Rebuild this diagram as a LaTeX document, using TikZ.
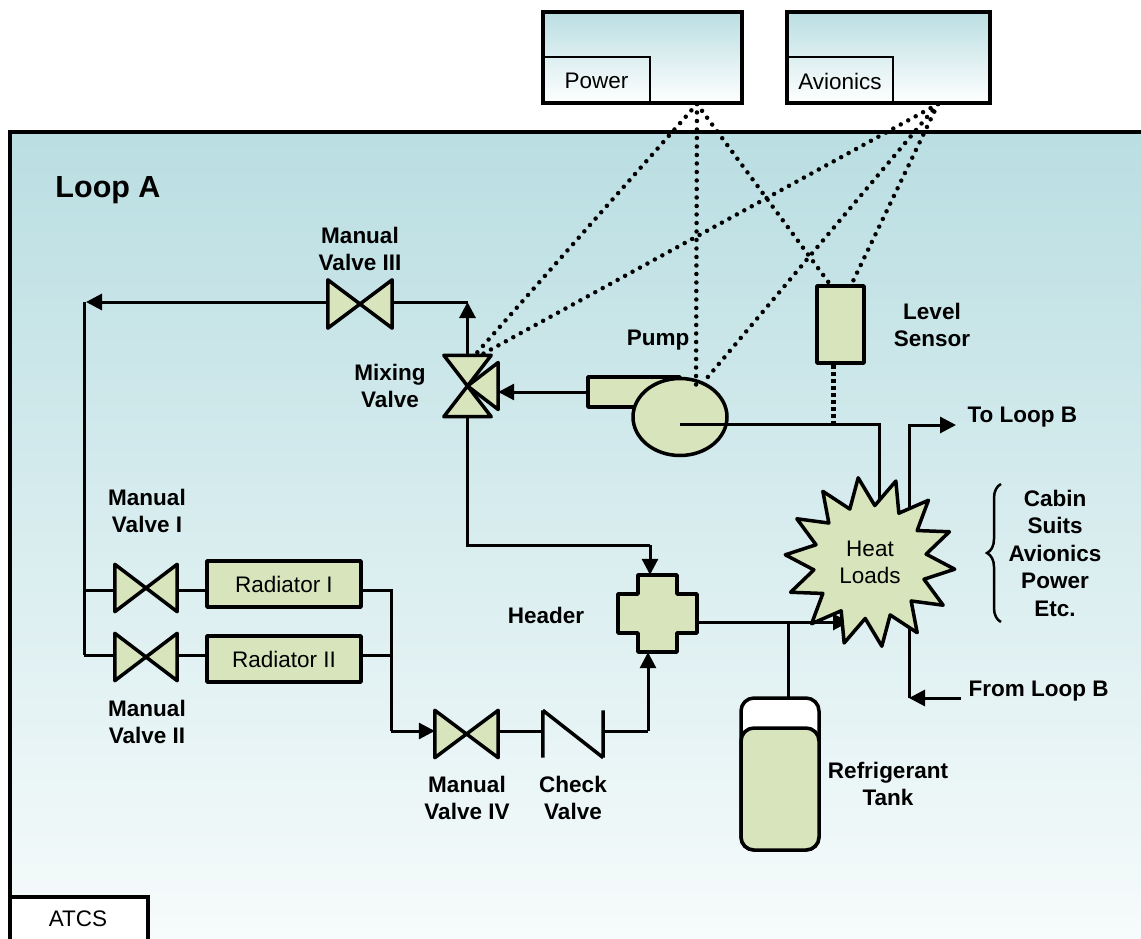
\documentclass[tikz,border=0pt]{standalone}
\usepackage{fontspec}
\setmainfont{Liberation Sans}
\usetikzlibrary{arrows.meta,shapes.geometric,decorations.pathreplacing,calc}
\definecolor{compfill}{HTML}{D7E4BC}
\definecolor{paneltop}{HTML}{BADEE2}
\definecolor{panelbot}{HTML}{F8FCFC}
\begin{document}
\begin{tikzpicture}[x=1pt,y=-1pt,
  pipe/.style={line width=3pt},
  arr/.style={-{Triangle[length=16pt,width=16pt]}},
  comp/.style={draw, line width=3.5pt, fill=compfill, line join=round},
  anchorbox/.style={inner sep=0pt, minimum width=#1},
  lbl/.style={font=\bfseries\fontsize{22.5}{27.5}\selectfont, align=center},
  txt/.style={font=\fontsize{22.5}{27}\selectfont, align=center},
  dots/.style={line width=4.5pt, dash pattern=on 0pt off 8.5pt, line cap=round},
  sensdash/.style={line width=5pt, dash pattern=on 4pt off 3pt},
  frame/.style={draw, line width=3.5pt}
]
\useasboundingbox (0,0) rectangle (1141,939);
% panel
\shade[top color=paneltop, bottom color=panelbot] (10,132) rectangle (1160,960);
\draw[line width=3.5pt] (10,960) -- (10,132) -- (1160,132);
\node[frame, fill=white, minimum width=138pt, minimum height=48pt, inner sep=0pt, outer sep=0pt, anchor=north west] (atcs) at (10,897) {};
\node[txt] (atcstxt) at (78,919) {ATCS};
\node[lbl, font=\bfseries\fontsize{30.5}{33}\selectfont] (loopA) at (108,190) {Loop A};

% top boxes
\shade[top color=paneltop, bottom color=white] (543,12) rectangle (742,103);
\node[frame, minimum width=199pt, minimum height=91pt, inner sep=0pt] (powbox) at (642.5,57.5) {};
\draw[line width=2.5pt] (543,57) -- (650,57) -- (650,103);
\node[txt] (powtxt) at (596.5,81) {Power};
\shade[top color=paneltop, bottom color=white] (787,12) rectangle (990,103);
\node[frame, minimum width=203pt, minimum height=91pt, inner sep=0pt] (avbox) at (888.5,57.5) {};
\draw[line width=2.5pt] (787,57) -- (893,57) -- (893,103);
\node[txt] (avtxt) at (840,81) {Avionics};

% component anchor nodes
\node[anchorbox=64pt, minimum height=48pt] (v3) at (360,304) {};
\node[anchorbox=47pt, minimum height=61pt] (mv) at (467.5,386) {};
\node[anchorbox=62pt, minimum height=47pt] (v1) at (146,588) {};
\node[anchorbox=62pt, minimum height=47pt] (v2) at (146,657) {};
\node[anchorbox=63pt, minimum height=47pt] (v4) at (466.5,734) {};
\node[anchorbox=60pt, minimum height=47pt] (cv) at (573,734) {};
\node[anchorbox=79pt, minimum height=77pt] (hd) at (657.5,613.5) {};
\coordinate (vl) at (84,302);
\coordinate (mvtop) at (467.5,302);
\coordinate (mvbend) at (467.5,545);
\coordinate (hdbend) at (650,545);
\coordinate (rj) at (391,590);
\coordinate (r2j) at (391,655);
\coordinate (v4in) at (391,731);
\coordinate (cvout) at (648,731);
\coordinate (hlin) at (849,622);
\coordinate (branch) at (788,622);
\coordinate (toB) at (956,425);
\coordinate (toBc) at (909,425);
\coordinate (fromB) at (961,698);
\coordinate (bx) at (909,698);
\coordinate (psrc) at (697,104);
\coordinate (asrc) at (938,104);
\coordinate (pipeR) at (879,424);
\coordinate (pipeD) at (879,520);
\coordinate (vlb) at (84,655);
\coordinate (vlr) at (84,590);

% pipes
\draw[pipe] (mv.south) -- (mvbend) -- (hdbend);
\draw[pipe,arr] (hdbend) -- ([xshift=-7.5pt]hd.north);
\draw[pipe,arr] (mv.north) -- (mvtop);
\draw[pipe] (mvtop) -- (v3.east |- vl);
\draw[pipe,arr] (v3.west |- vl) -- ([xshift=2pt]vl);
\draw[pipe] (vl) -- (vlb);
\draw[pipe] (vlr) -- (v1.west |- rj);
\draw[pipe] (vlb) -- (v2.west |- r2j);
\node[comp, minimum width=154pt, minimum height=46pt, inner sep=0pt, txt] (r1) at (284,584) {Radiator I};
\node[comp, minimum width=154pt, minimum height=46pt, inner sep=0pt, txt] (r2) at (284,659) {Radiator II};
\draw[pipe] (v1.east |- rj) -- (r1.west |- rj);
\draw[pipe] (v2.east |- r2j) -- (r2.west |- r2j);
\draw[pipe] (r1.east |- rj) -- (rj) -- (v4in);
\draw[pipe] (r2.east |- r2j) -- (r2j);
\draw[pipe,arr] (v4in) -- (v4.west |- v4in);
\draw[pipe] (v4.east |- v4in) -- (cv.west |- v4in);
\draw[pipe] (cv.east |- v4in) -- (cvout);
\draw[pipe,arr] (cvout) -- ([xshift=-9.5pt]hd.south);
\draw[pipe,arr] (hd.east |- hlin) -- (hlin);
\node[draw, line width=3.5pt, fill=white, rounded corners=13pt, minimum width=78pt, minimum height=152pt, inner sep=0pt, outer sep=0pt] (tank) at (780,774) {};
\draw[line width=3.5pt, fill=compfill, rounded corners=13pt] (tank.south west) rectangle ([yshift=-30pt]tank.north east);
\draw[pipe] (branch) -- (branch |- tank.north);
\draw[pipe,arr] (fromB) -- (bx);
\draw[pipe,arr] (bx) -- (toBc) -- (toB);

% valves
\draw[comp] (v3.north west) -- (v3.south east) -- (v3.north east) -- (v3.south west) -- cycle;
\draw[comp] (v1.north west) -- (v1.south east) -- (v1.north east) -- (v1.south west) -- cycle;
\draw[comp] (v2.north west) -- (v2.south east) -- (v2.north east) -- (v2.south west) -- cycle;
\draw[comp] (v4.north west) -- (v4.south east) -- (v4.north east) -- (v4.south west) -- cycle;
\draw[line width=3.5pt, line join=round] (cv.north west) -- (cv.south west) (cv.north west) -- (cv.south east) (cv.north east) -- (cv.south east);
\draw[comp] (mv.north west) -- (mv.north east) -- (mv.center) -- cycle;
\draw[comp] (mv.south west) -- (mv.south east) -- (mv.center) -- cycle;
\draw[comp] (mv.center) -- ([xshift=7pt,yshift=-23.5pt]mv.east) -- ([xshift=7pt,yshift=23.5pt]mv.east) -- cycle;
\draw[comp, shift={(hd.center)}] (-19.5,-38.5) -- (19.5,-38.5) -- (19.5,-19.5) -- (39.5,-19.5) -- (39.5,19.5) -- (19.5,19.5) -- (19.5,38.5) -- (-19.5,38.5) -- (-19.5,19.5) -- (-39.5,19.5) -- (-39.5,-19.5) -- (-19.5,-19.5) -- cycle;

% pump
\node[comp, minimum width=92pt, minimum height=30pt, inner sep=0pt] (pout) at (634,392) {};
\node[comp, ellipse, minimum width=94pt, minimum height=77pt, inner sep=0pt] (pump) at (680,417) {};
\draw[pipe,arr] (pout.west) -- ([xshift=7pt,yshift=-6pt]mv.east);
\draw[pipe] ([yshift=-7pt]pump.center) -- (pipeR) -- (pipeD);

% level sensor
\node[comp, minimum width=47pt, minimum height=77pt, inner sep=0pt] (ls) at (840.5,324.5) {};
\draw[sensdash] ([xshift=-7pt]ls.south) -- ([xshift=-7pt,yshift=-60pt]ls.south);

% heat loads
\node[comp, star, star points=14, star point ratio=1.5, minimum size=170pt, inner sep=0pt, shape border rotate=8, txt] (hl) at (870,562) {Heat\\Loads};

% brace
\coordinate (brb) at (1001,622);
\coordinate (brt) at (1001,484);
\draw[line width=2.5pt, decorate, decoration={brace, amplitude=14pt}] (brb) -- (brt);
\node[lbl] (blist) at (1055,553) {Cabin\\Suits\\Avionics\\Power\\Etc.};

% dotted links
\draw[dots] (psrc) -- ([xshift=4.5pt,yshift=-3pt]mv.north);
\draw[dots] (psrc) -- ([xshift=16pt,yshift=29pt]pump.center);
\draw[dots] (psrc) -- ([xshift=-12pt,yshift=2pt]ls.north);
\draw[dots] (asrc) -- ([xshift=11pt,yshift=-1pt]mv.north);
\draw[dots] (asrc) -- ([xshift=27pt,yshift=39pt]pump.center);
\draw[dots] (asrc) -- ([xshift=12pt,yshift=2pt]ls.north);

% labels
\node[lbl] (l3) at (360,249) {Manual\\Valve III};
\node[lbl] (lmv) at (390,386) {Mixing\\Valve};
\node[lbl] (lpump) at (658,340) {Pump};
\node[lbl] (lls) at (932,325) {Level\\Sensor};
\node[lbl, anchor=west] (ltoB) at (964,417) {To Loop B};
\node[lbl, anchor=west] (lfromB) at (965,691) {From Loop B};
\node[lbl] (lhd) at (546,615) {Header};
\node[lbl] (l1) at (147,511) {Manual\\Valve I};
\node[lbl] (l2) at (147,722) {Manual\\Valve II};
\node[lbl] (l4) at (467,798) {Manual\\Valve IV};
\node[lbl] (lcv) at (573,798) {Check\\Valve};
\node[lbl] (ltank) at (888,784) {Refrigerant\\Tank};
\end{tikzpicture}
\end{document}
